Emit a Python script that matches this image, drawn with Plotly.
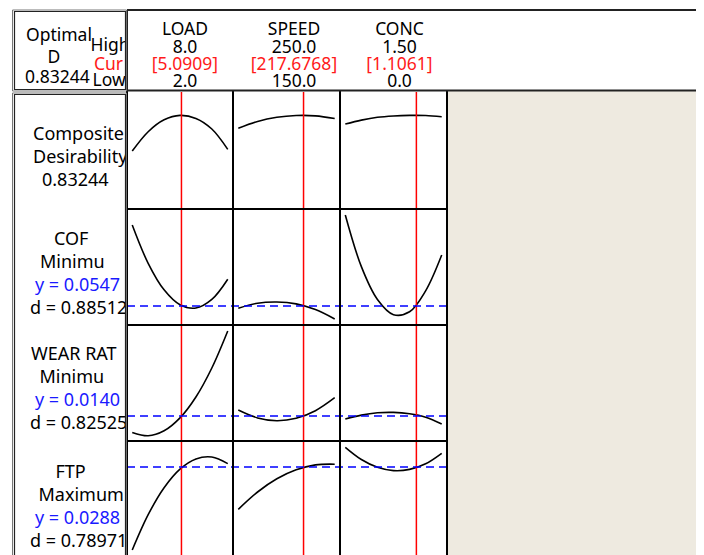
import plotly.graph_objects as go

# ---------------- data ----------------
factors = ["LOAD", "SPEED", "CONC"]
factor_high = [8.0, 250.0, 1.50]
factor_low = [2.0, 150.0, 0.0]
factor_cur = [5.0909, 217.6768, 1.1061]
high_fmt = ["{:.1f}", "{:.1f}", "{:.2f}"]
low_fmt = ["{:.1f}", "{:.1f}", "{:.1f}"]
cur_fmt = ["[{:.4f}]", "[{:.4f}]", "[{:.4f}]"]

composite_d = 0.83244
responses = ["COF", "WEAR RAT", "FTP"]
goals = ["Minimu", "Minimu", "Maximum"]
resp_y = [0.0547, 0.0140, 0.0288]
resp_d = [0.88512, 0.82525, 0.78971]

# curve samples
load_x = [2, 3, 4, 5, 6, 7, 8]
speed_x = [150, 170, 190, 210, 230, 250]
conc_x = [0, 0.25, 0.5, 0.75, 1.0, 1.25, 1.5]

comp_load = [0.515, 0.687, 0.793, 0.832, 0.805, 0.711, 0.53]
comp_speed = [0.717, 0.778, 0.815, 0.831, 0.828, 0.805]
comp_conc = [0.755, 0.790, 0.815, 0.827, 0.832, 0.831, 0.820]

cof_load = [0.06685, 0.0611, 0.05712, 0.05488, 0.0544, 0.05569, 0.05872]
cof_speed = [0.05437, 0.05512, 0.0553, 0.05502, 0.05416, 0.05275]
cof_conc = [0.06835, 0.0606, 0.05568, 0.0534, 0.05383, 0.05698, 0.06235]

wear_load = [0.01318, 0.013015, 0.01326, 0.013905, 0.01495, 0.0164, 0.01825]
wear_speed = [0.0143, 0.013905, 0.013765, 0.013885, 0.014265, 0.014915]
wear_conc = [0.01385, 0.014045, 0.01416, 0.01418, 0.01411, 0.01394, 0.0136]

ftp_load = [0.0205, 0.02403, 0.02673, 0.02859, 0.02961, 0.0298, 0.02914]
ftp_speed = [0.02457, 0.0263, 0.02762, 0.02852, 0.02901, 0.02908]
ftp_conc = [0.03077, 0.02955, 0.02877, 0.02844, 0.02856, 0.02912, 0.03017]

rows_curves = [
    [(load_x, comp_load), (speed_x, comp_speed), (conc_x, comp_conc)],
    [(load_x, cof_load), (speed_x, cof_speed), (conc_x, cof_conc)],
    [(load_x, wear_load), (speed_x, wear_speed), (conc_x, wear_conc)],
    [(load_x, ftp_load), (speed_x, ftp_speed), (conc_x, ftp_conc)],
]
row_ranges = [[0, 1.04], [0.05185, 0.06925], [0.01275, 0.01855], [0.0200, 0.0314]]

# ---------------- layout geometry (page pixels) ----------------
PAGE_W, PAGE_H = 704, 555
OFF = 8  # default body margin of the html page
W, H = PAGE_W - OFF, PAGE_H - OFF
col_edges = [127, 233, 340, 447]
row_edges = [92, 209, 325, 441, 555]
FONT = "Noto Sans"
FS = 18
FSH = 17.5
DY = 1.5


def px(x):
    return (x - OFF) / W


def py(y):
    return 1 - (y - OFF) / H


fig = go.Figure()
layout = dict(
    width=W, height=H, margin=dict(l=0, r=0, t=0, b=0), autosize=False,
    paper_bgcolor="white", plot_bgcolor="rgba(0,0,0,0)", showlegend=False,
    font=dict(family=FONT, size=FS, color="black"),
)
shapes = []

# beige background area
shapes.append(dict(type="rect", xref="paper", yref="paper", x0=px(447), x1=1,
                   y0=0, y1=py(91), fillcolor="#EEEAE0", line=dict(width=0), layer="below"))

k = 0
for r in range(4):
    for c in range(3):
        k += 1
        xa = "xaxis" if k == 1 else f"xaxis{k}"
        ya = "yaxis" if k == 1 else f"yaxis{k}"
        xref = "x" if k == 1 else f"x{k}"
        yref = "y" if k == 1 else f"y{k}"
        lo, hi = factor_low[c], factor_high[c]
        pad = (hi - lo) * 0.055
        layout[xa] = dict(domain=[px(col_edges[c]), px(col_edges[c + 1])],
                          range=[lo - pad, hi + pad], visible=False, fixedrange=True,
                          anchor=yref)
        layout[ya] = dict(domain=[py(row_edges[r + 1]), py(row_edges[r])],
                          range=row_ranges[r], visible=False, fixedrange=True,
                          anchor=xref)
        xs, ys = rows_curves[r][c]
        fig.add_trace(go.Scatter(x=xs, y=ys, mode="lines", xaxis=xref, yaxis=yref,
                                 line=dict(color="black", width=1.6, shape="spline", smoothing=1.0),
                                 hoverinfo="skip"))
        if r == 0:
            shapes.append(dict(type="line", xref=xref, yref="paper",
                               x0=factor_cur[c], x1=factor_cur[c], y0=0, y1=py(row_edges[0]),
                               line=dict(color="#FF0000", width=1.5), layer="above"))
        if r > 0 and c == 0:
            shapes.append(dict(type="line", xref="paper", yref=yref,
                               x0=px(col_edges[0]), x1=px(col_edges[3]),
                               y0=resp_y[r - 1], y1=resp_y[r - 1],
                               line=dict(color="#0000ff", width=1.3, dash="8px,5px"),
                               layer="above"))

# panel borders
for x in col_edges:
    shapes.append(dict(type="line", xref="paper", yref="paper", x0=px(x), x1=px(x),
                       y0=0, y1=py(91), line=dict(color="black", width=2), layer="above"))
for y in row_edges[1:-1]:
    shapes.append(dict(type="line", xref="paper", yref="paper", x0=px(127), x1=px(447),
                       y0=py(y), y1=py(y), line=dict(color="black", width=2), layer="above"))

# header box
shapes.append(dict(type="line", xref="paper", yref="paper", x0=px(127), x1=1,
                   y0=py(10), y1=py(10), line=dict(color="#222", width=2), layer="above"))
shapes.append(dict(type="line", xref="paper", yref="paper", x0=px(127), x1=1,
                   y0=py(90.5), y1=py(90.5), line=dict(color="#222", width=2), layer="above"))
shapes.append(dict(type="line", xref="paper", yref="paper", x0=px(127), x1=px(127),
                   y0=py(91), y1=py(10), line=dict(color="#222", width=2), layer="above"))
# left boxes with double border
for (y0, y1) in [(10, 91), (93, 560)]:
    shapes.append(dict(type="rect", xref="paper", yref="paper", x0=px(12.5), x1=px(126.5),
                       y0=py(y1), y1=py(y0), line=dict(color="#777", width=1), layer="above"))
    shapes.append(dict(type="rect", xref="paper", yref="paper", x0=px(14.5), x1=px(125.5),
                       y0=py(y1 - 1.5), y1=py(y0 + 1.5), line=dict(color="#222", width=1.2),
                       layer="above"))

layout["shapes"] = shapes

# ---- label column (text clipped at x=127) ----
k += 1
lx, ly = f"x{k}", f"y{k}"
layout[f"xaxis{k}"] = dict(domain=[0, px(127)], range=[OFF, 127], visible=False, fixedrange=True, anchor=ly)
layout[f"yaxis{k}"] = dict(domain=[0, 1], range=[PAGE_H, OFF], visible=False, fixedrange=True, anchor=lx)

BLUE = "#1a1aff"
RED = "#ff1a1a"
lab_text, lab_x, lab_y, lab_col, lab_size = [], [], [], [], []


def add(t, x, y, col="black", size=FS):
    lab_text.append(t); lab_x.append(x); lab_y.append(y + DY); lab_col.append(col)
    lab_size.append(size)


add("Composite", 33, 134)
add("Desirability", 33, 157)
add(f"{composite_d:.5f}", 42, 180)
row_tops = [239, 354, 471.5]
name_x = [54, 31, 55.5]
goal_x = [40, 39.5, 38.5]
for i in range(3):
    t0 = row_tops[i]
    add(responses[i], name_x[i], t0)
    add(goals[i], goal_x[i], t0 + 23)
    add(f"y = {resp_y[i]:.4f}", 35, t0 + 46, BLUE)
    add(f"d = {resp_d[i]:.5f}", 30, t0 + 69)
# header left box
add("Optimal", 26, 35, size=FSH)
add("High", 90.5, 45, size=FSH)
add("Cur", 94, 64, RED, size=FSH)
add("Low", 92.5, 80, size=FSH)
add(f"{composite_d:.5f}", 25, 77, size=FSH)
add("D", 47.5, 57, size=FSH)

fig.add_trace(go.Scatter(x=lab_x, y=lab_y, text=lab_text, mode="text", xaxis=lx, yaxis=ly,
                         textposition="middle right", cliponaxis=True,
                         textfont=dict(family=FONT, size=lab_size, color=lab_col), hoverinfo="skip"))

# ---- column headers ----
k += 1
hx, hy = f"x{k}", f"y{k}"
layout[f"xaxis{k}"] = dict(domain=[0, 1], range=[OFF, PAGE_W], visible=False, fixedrange=True, anchor=hy)
layout[f"yaxis{k}"] = dict(domain=[0, 1], range=[PAGE_H, OFF], visible=False, fixedrange=True, anchor=hx)
head_cx = [185, 294, 399.5]
h_text, h_x, h_y, h_col = [], [], [], []
for c in range(3):
    for t, yy, col in [(factors[c], 29, "black"),
                       (high_fmt[c].format(factor_high[c]), 47, "black"),
                       (cur_fmt[c].format(factor_cur[c]), 64.5, RED),
                       (low_fmt[c].format(factor_low[c]), 81.5, "black")]:
        h_text.append(t); h_x.append(head_cx[c]); h_y.append(yy + DY); h_col.append(col)
fig.add_trace(go.Scatter(x=h_x, y=h_y, text=h_text, mode="text", xaxis=hx, yaxis=hy,
                         textposition="middle center", cliponaxis=False,
                         textfont=dict(family=FONT, size=FSH, color=h_col), hoverinfo="skip"))

fig.update_layout(**layout)
fig.write_html("out.html")
